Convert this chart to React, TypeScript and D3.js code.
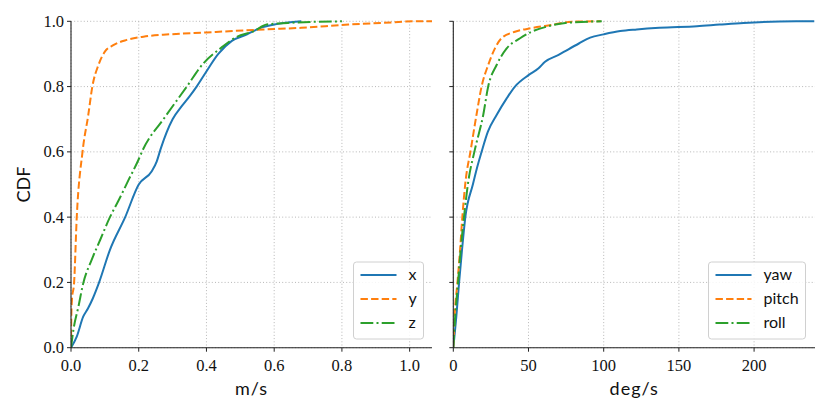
import React from "react";
import * as d3 from "d3";

// ---- data ----
const xVelX = [0, 0.017, 0.036, 0.05, 0.064, 0.083, 0.115, 0.16, 0.2, 0.238, 0.253, 0.265, 0.3, 0.327, 0.35, 0.371, 0.396, 0.435, 0.475, 0.52, 0.56, 0.6, 0.68];
const xVelP = [0, 0.034, 0.095, 0.12, 0.15, 0.2, 0.3, 0.4, 0.5, 0.54, 0.57, 0.61, 0.7, 0.74, 0.77, 0.8, 0.84, 0.9, 0.94, 0.96, 0.98, 0.99, 1.0];

const yVelX = [0, 0.001, 0.003, 0.009, 0.017, 0.034, 0.051, 0.063, 0.081, 0.1, 0.125, 0.165, 0.214, 0.29, 0.4, 0.57, 0.68, 0.82, 0.92, 1.02, 1.066];
const yVelP = [0, 0.1, 0.15, 0.197, 0.4, 0.6, 0.713, 0.8, 0.866, 0.907, 0.927, 0.943, 0.953, 0.96, 0.966, 0.975, 0.98, 0.99, 0.995, 1.0, 1.0];

const zVelX = [0, 0.007, 0.022, 0.036, 0.061, 0.086, 0.115, 0.14, 0.17, 0.199, 0.212, 0.273, 0.342, 0.39, 0.445, 0.485, 0.54, 0.578, 0.64, 0.8];
const zVelP = [0, 0.054, 0.126, 0.197, 0.269, 0.33, 0.4, 0.45, 0.514, 0.575, 0.606, 0.7, 0.8, 0.87, 0.92, 0.95, 0.97, 0.99, 0.995, 1.0];

const yawX = [0, 2, 3.8, 5.8, 8, 13, 15.7, 18.8, 23, 28.8, 35.5, 41, 50, 56.7, 61, 70, 75.7, 83.5, 91, 100, 111, 122, 137, 162, 177, 193, 228, 240];
const yawP = [0, 0.095, 0.197, 0.3, 0.4, 0.5, 0.55, 0.6, 0.662, 0.713, 0.764, 0.8, 0.835, 0.856, 0.876, 0.897, 0.912, 0.932, 0.95, 0.96, 0.97, 0.975, 0.98, 0.985, 0.99, 0.995, 1.0, 1.0];

const pitchX = [0, 0.9, 2.7, 4.5, 6, 8, 11.6, 15.4, 18.8, 23.2, 27.7, 32, 41, 52, 65.6, 79, 98];
const pitchP = [0, 0.1, 0.197, 0.3, 0.4, 0.504, 0.606, 0.713, 0.8, 0.866, 0.917, 0.948, 0.968, 0.979, 0.989, 0.999, 1.0];

const rollX = [0, 1.3, 3.1, 4.9, 7.1, 9.8, 14.3, 19.9, 23.2, 28.8, 35.5, 44.4, 52, 63.4, 74.5, 98.7];
const rollP = [0, 0.1, 0.197, 0.3, 0.4, 0.504, 0.606, 0.713, 0.8, 0.866, 0.917, 0.948, 0.968, 0.985, 0.995, 1.0];

const yTicks = [0, 0.2, 0.4, 0.6, 0.8, 1.0];
const leftXTicks = [0, 0.2, 0.4, 0.6, 0.8, 1.0];
const rightXTicks = [0, 50, 100, 150, 200];

const leftSeries = [
  { name: "x", xs: xVelX, ps: xVelP },
  { name: "y", xs: yVelX, ps: yVelP },
  { name: "z", xs: zVelX, ps: zVelP },
];
const rightSeries = [
  { name: "yaw", xs: yawX, ps: yawP },
  { name: "pitch", xs: pitchX, ps: pitchP },
  { name: "roll", xs: rollX, ps: rollP },
];

const colors = ["#1f77b4", "#ff7f0e", "#2ca02c"];
const dashes = ["none", "7.4,3.2", "12.8,3.2,2,3.2"];

const W = 830;
const H = 415;
const top = 21.3;
const bottom = 347.7;

const serif = "'Liberation Serif', serif";
const sans = "Lato, 'DejaVu Sans', sans-serif";

function Panel({
  x0, x1, xmax, xTicks, series, xLabel, showYLabels, fmt, legendX, legendW, clipId,
}: any) {
  const xs = d3.scaleLinear().domain([0, xmax]).range([x0, x1]);
  const ys = d3.scaleLinear().domain([0, 1]).range([bottom, top]);
  const line = d3
    .line<[number, number]>()
    .x((d) => xs(d[0]))
    .y((d) => ys(d[1]))
    .curve(d3.curveMonotoneX);
  const gridColor = "#b0b0b0";
  const legendTop = 262;
  return (
    <g>
      <defs>
        <clipPath id={clipId}>
          <rect x={x0} y={top - 2} width={x1 - x0} height={bottom - top + 4} />
        </clipPath>
      </defs>
      {xTicks.map((t: number) => (
        <line key={"gx" + t} x1={xs(t)} x2={xs(t)} y1={top} y2={bottom}
          stroke={gridColor} strokeWidth={0.9} strokeDasharray="1,2.2" />
      ))}
      {yTicks.map((t) => (
        <line key={"gy" + t} x1={x0} x2={x1} y1={ys(t)} y2={ys(t)}
          stroke={gridColor} strokeWidth={0.9} strokeDasharray="1,2.2" />
      ))}
      <g clipPath={`url(#${clipId})`}>
        {series.map((s: any, i: number) => {
          const pts: [number, number][] = s.xs.map((v: number, k: number) => [v, s.ps[k]]);
          return (
            <path key={s.name} d={line(pts) || ""} fill="none" stroke={colors[i]}
              strokeWidth={2} strokeDasharray={dashes[i]} />
          );
        })}
      </g>
      <line x1={x0} x2={x0} y1={top} y2={bottom} stroke="#222" strokeWidth={1.1} />
      <line x1={x0} x2={x1} y1={bottom} y2={bottom} stroke="#222" strokeWidth={1.1} />
      {xTicks.map((t: number) => (
        <g key={"xt" + t}>
          <line x1={xs(t)} x2={xs(t)} y1={bottom} y2={bottom + 4} stroke="#222" strokeWidth={1} />
          <text x={xs(t)} y={bottom + 23} textAnchor="middle" style={{ fontFamily: serif, fontSize: 16.5 }} fill="#111">
            {fmt(t)}
          </text>
        </g>
      ))}
      {yTicks.map((t) => (
        <g key={"yt" + t}>
          <line x1={x0 - 4} x2={x0} y1={ys(t)} y2={ys(t)} stroke="#222" strokeWidth={1} />
          {showYLabels && (
            <text x={x0 - 7} y={ys(t) + 5.5} textAnchor="end" style={{ fontFamily: serif, fontSize: 16.5 }} fill="#111">
              {t.toFixed(1)}
            </text>
          )}
        </g>
      ))}
      <text x={(x0 + x1) / 2} y={395} textAnchor="middle" style={{ fontFamily: sans, fontSize: 18, letterSpacing: 1 }}
        fill="#111">
        {xLabel}
      </text>
      <rect x={legendX} y={legendTop} width={legendW} height={77} rx={3} ry={3}
        fill="white" fillOpacity={0.85} stroke="#d0d0d0" strokeWidth={1} />
      {series.map((s: any, i: number) => {
        const yy = legendTop + 13 + i * 24;
        return (
          <g key={"lg" + s.name}>
            <line x1={legendX + 7} x2={legendX + 43} y1={yy} y2={yy} stroke={colors[i]}
              strokeWidth={2} strokeDasharray={dashes[i]} />
            <text x={legendX + 55} y={yy + 5} style={{ fontFamily: sans, fontSize: 16 }} fill="#111">
              {s.name}
            </text>
          </g>
        );
      })}
    </g>
  );
}

export default function App() {
  return (
    <svg width={W} height={H} viewBox={`0 0 ${W} ${H}`}
      style={{ position: "absolute", left: 0, top: 0, background: "white" }}>
      <rect x={0} y={0} width={W} height={H} fill="white" />
      <Panel x0={71} x1={432} xmax={1.066} xTicks={leftXTicks} series={leftSeries}
        xLabel="m/s" showYLabels={true} fmt={(t: number) => t.toFixed(1)}
        legendX={353.5} legendW={70} clipId="clipL" />
      <Panel x0={453.3} x1={815} xmax={240.5} xTicks={rightXTicks} series={rightSeries}
        xLabel="deg/s" showYLabels={false} fmt={(t: number) => String(t)}
        legendX={708.5} legendW={97} clipId="clipR" />
      <text transform={`translate(30,${(top + bottom) / 2}) rotate(-90)`} textAnchor="middle"
        style={{ fontFamily: sans, fontSize: 18 }} fill="#111">
        CDF
      </text>
    </svg>
  );
}
